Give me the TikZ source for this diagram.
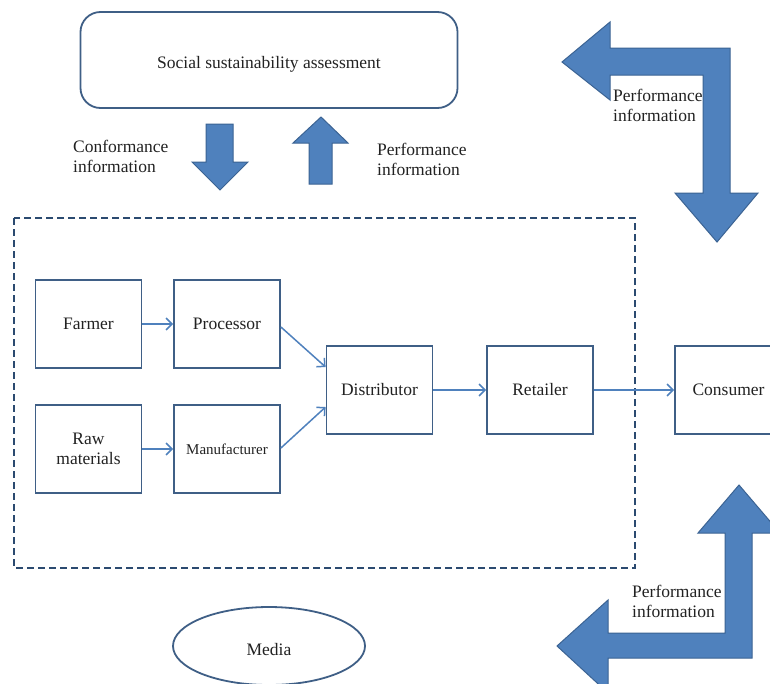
\documentclass[tikz,border=0pt]{standalone}
\usepackage{fontspec}
\setmainfont{Liberation Serif}
\usetikzlibrary{arrows.meta,shapes.geometric}
\definecolor{arrfill}{HTML}{4F81BD}
\definecolor{arredge}{HTML}{3B6393}
\definecolor{boxedge}{HTML}{3F5F86}
\definecolor{conn}{HTML}{4F81BD}
\definecolor{dashc}{HTML}{2B4A70}
\definecolor{txt}{HTML}{222222}
\begin{document}
\begin{tikzpicture}[x=1pt,y=-1pt,
  every node/.style={text=txt,font=\fontsize{17.5}{20}\selectfont},
  stagebox/.style={draw=boxedge,line width=1.8pt,minimum width=106pt,minimum height=88pt,inner sep=0pt,align=center},
  flow/.style={draw=conn,line width=1.5pt,-{Straight Barb[length=6pt,width=12pt]}},
  bigarrow/.style={fill=arrfill,draw=arredge,line width=1pt,line join=miter},
  lbl/.style={anchor=base west,align=left,inner sep=0pt}]
\path[use as bounding box,clip] (0,0) rectangle (770,683);
\fill[white] (0,0) rectangle (770,683);

% top assessment box
\node[draw=boxedge,line width=1.8pt,rounded corners=20pt,minimum width=377pt,minimum height=96pt,text height=16pt,text depth=0pt] (ssa) at (269,60) {Social sustainability assessment};

% small vertical arrows
\draw[bigarrow] (206,124) -- (233,124) -- (233,162) -- (248,162) -- (220,190) -- (192,162) -- (206,162) -- cycle;
\draw[bigarrow] (321,117) -- (348,143) -- (332,143) -- (332,184) -- (309,184) -- (309,143) -- (293,143) -- cycle;

% big L arrows
\draw[bigarrow] (562,62) -- (610,22) -- (610,48) -- (730,48) -- (730,193) -- (758,193) -- (717,242) -- (675,193) -- (703,193) -- (703,75) -- (610,75) -- (610,100) -- cycle;
\draw[bigarrow] (739,485) -- (780,533) -- (752,533) -- (752,658) -- (608,658) -- (608,693) -- (557,646) -- (608,600) -- (608,633) -- (725,633) -- (725,533) -- (698,533) -- cycle;

% labels (anchor = baseline of the last line)
\node[lbl] (conf) at (73,172) {Conformance\\information};
\node[lbl] (perf1) at (377,175) {Performance\\information};
\node[lbl] (perf2) at (613,121) {Performance\\information};
\node[lbl] (perf3) at (632,617) {Performance\\information};

% dashed supply chain boundary
\draw[dashc,line width=2pt,dash pattern=on 7pt off 4pt] (14,218) rectangle (635,568);

% stages
\node[stagebox] (farmer) at (88.5,324) {Farmer};
\node[stagebox] (proc) at (227,324) {Processor};
\node[stagebox] (raw) at (88.5,449) {Raw\\materials};
\node[stagebox,font=\fontsize{15}{18}\selectfont] (manu) at (227,449) {Manufacturer};
\node[stagebox] (dist) at (379.5,390) {Distributor};
\node[stagebox] (ret) at (540,390) {Retailer};
\node[stagebox,minimum width=107pt] (cons) at (728.5,390) {Consumer};

% connectors
\draw[flow] (farmer) -- (proc);
\draw[flow] (raw) -- (manu);
\draw[flow] ([yshift=-3pt]proc.east) -- ([yshift=23pt]dist.west);
\draw[flow] ([yshift=1pt]manu.east) -- ([yshift=-17pt]dist.west);
\draw[flow] (dist) -- (ret);
\draw[flow] (ret) -- (cons);

% media
\node[draw=boxedge,line width=1.8pt,ellipse,minimum width=192pt,minimum height=78pt,inner sep=0pt,text height=18pt,text depth=0pt] (media) at (269,646) {Media};
\end{tikzpicture}
\end{document}
